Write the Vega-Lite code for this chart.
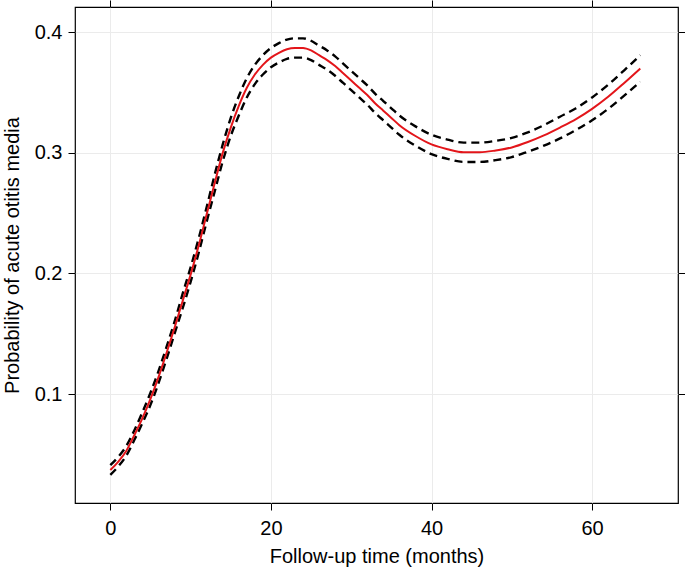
{
  "$schema": "https://vega.github.io/schema/vega-lite/v6.json",
  "width": 603,
  "height": 496,
  "autosize": {"type": "none"},
  "padding": {"left": 75, "top": 7, "right": 7, "bottom": 66},
  "background": "white",
  "config": {
    "view": {"stroke": "black", "strokeWidth": 1.2},
    "font": "Liberation Sans",
    "axis": {
      "labelFont": "Liberation Sans",
      "titleFont": "Liberation Sans",
      "labelFontSize": 20,
      "titleFontSize": 20,
      "titleFontWeight": "normal",
      "labelColor": "black",
      "titleColor": "black",
      "tickColor": "black",
      "tickSize": 7,
      "domain": false,
      "gridColor": "#ebebeb",
      "gridWidth": 1
    }
  },
  "data": {
    "values": [
      {"month": 0, "est": 0.037, "lo": 0.033, "hi": 0.041},
      {"month": 1, "est": 0.044, "lo": 0.040, "hi": 0.048},
      {"month": 2, "est": 0.053, "lo": 0.049, "hi": 0.057},
      {"month": 3, "est": 0.066, "lo": 0.062, "hi": 0.070},
      {"month": 4, "est": 0.080, "lo": 0.076, "hi": 0.085},
      {"month": 5, "est": 0.096, "lo": 0.091, "hi": 0.101},
      {"month": 6, "est": 0.114, "lo": 0.109, "hi": 0.119},
      {"month": 7, "est": 0.134, "lo": 0.129, "hi": 0.139},
      {"month": 8, "est": 0.155, "lo": 0.150, "hi": 0.160},
      {"month": 9, "est": 0.177, "lo": 0.171, "hi": 0.183},
      {"month": 10, "est": 0.199, "lo": 0.193, "hi": 0.205},
      {"month": 11, "est": 0.223, "lo": 0.217, "hi": 0.229},
      {"month": 12, "est": 0.249, "lo": 0.243, "hi": 0.255},
      {"month": 13, "est": 0.275, "lo": 0.268, "hi": 0.282},
      {"month": 14, "est": 0.300, "lo": 0.293, "hi": 0.307},
      {"month": 15, "est": 0.321, "lo": 0.314, "hi": 0.329},
      {"month": 16, "est": 0.339, "lo": 0.331, "hi": 0.347},
      {"month": 17, "est": 0.354, "lo": 0.346, "hi": 0.362},
      {"month": 18, "est": 0.365, "lo": 0.357, "hi": 0.373},
      {"month": 19, "est": 0.373, "lo": 0.365, "hi": 0.381},
      {"month": 20, "est": 0.379, "lo": 0.371, "hi": 0.387},
      {"month": 21, "est": 0.383, "lo": 0.375, "hi": 0.391},
      {"month": 22, "est": 0.386, "lo": 0.378, "hi": 0.394},
      {"month": 23, "est": 0.387, "lo": 0.379, "hi": 0.395},
      {"month": 24, "est": 0.387, "lo": 0.379, "hi": 0.395},
      {"month": 25, "est": 0.385, "lo": 0.377, "hi": 0.393},
      {"month": 26, "est": 0.381, "lo": 0.373, "hi": 0.389},
      {"month": 27, "est": 0.377, "lo": 0.369, "hi": 0.385},
      {"month": 28, "est": 0.372, "lo": 0.364, "hi": 0.380},
      {"month": 29, "est": 0.366, "lo": 0.358, "hi": 0.374},
      {"month": 30, "est": 0.360, "lo": 0.352, "hi": 0.368},
      {"month": 31, "est": 0.354, "lo": 0.346, "hi": 0.362},
      {"month": 32, "est": 0.348, "lo": 0.340, "hi": 0.356},
      {"month": 33, "est": 0.341, "lo": 0.333, "hi": 0.349},
      {"month": 34, "est": 0.335, "lo": 0.327, "hi": 0.343},
      {"month": 35, "est": 0.329, "lo": 0.321, "hi": 0.337},
      {"month": 36, "est": 0.323, "lo": 0.315, "hi": 0.331},
      {"month": 38, "est": 0.314, "lo": 0.306, "hi": 0.322},
      {"month": 40, "est": 0.307, "lo": 0.299, "hi": 0.315},
      {"month": 42, "est": 0.303, "lo": 0.295, "hi": 0.311},
      {"month": 44, "est": 0.3005, "lo": 0.2925, "hi": 0.3085},
      {"month": 46, "est": 0.3005, "lo": 0.2925, "hi": 0.3085},
      {"month": 48, "est": 0.302, "lo": 0.294, "hi": 0.310},
      {"month": 50, "est": 0.3045, "lo": 0.2965, "hi": 0.3125},
      {"month": 52, "est": 0.309, "lo": 0.301, "hi": 0.317},
      {"month": 54, "est": 0.3145, "lo": 0.306, "hi": 0.323},
      {"month": 56, "est": 0.321, "lo": 0.312, "hi": 0.330},
      {"month": 58, "est": 0.328, "lo": 0.319, "hi": 0.337},
      {"month": 60, "est": 0.3365, "lo": 0.327, "hi": 0.346},
      {"month": 62, "est": 0.3465, "lo": 0.3365, "hi": 0.3565},
      {"month": 64, "est": 0.358, "lo": 0.3475, "hi": 0.3685},
      {"month": 66, "est": 0.370, "lo": 0.359, "hi": 0.381}
    ]
  },
  "resolve": {"axis": {"x": "independent", "y": "independent"}},
  "layer": [
    {
      "mark": {"type": "line", "color": "black", "strokeWidth": 2.4, "strokeDash": [8, 5], "interpolate": "monotone"},
      "encoding": {
        "x": {"field": "month", "type": "quantitative", "scale": {"domain": [-4.4, 70.7], "nice": false, "zero": false},
              "axis": {"orient": "bottom", "values": [0, 20, 40, 60], "title": "Follow-up time (months)", "labelPadding": 8, "titlePadding": 8, "grid": true}},
        "y": {"field": "hi", "type": "quantitative", "scale": {"domain": [0.0096, 0.421], "nice": false, "zero": false},
              "axis": {"orient": "left", "values": [0.1, 0.2, 0.3, 0.4], "format": ".1f", "title": "Probability of acute otitis media", "labelPadding": 6, "titlePadding": 12, "grid": true}}
      }
    },
    {
      "mark": {"type": "line", "color": "black", "strokeWidth": 2.4, "strokeDash": [8, 5], "interpolate": "monotone"},
      "encoding": {
        "x": {"field": "month", "type": "quantitative",
              "axis": {"orient": "top", "values": [0, 20, 40, 60], "labels": false, "title": null, "grid": false}},
        "y": {"field": "lo", "type": "quantitative",
              "axis": {"orient": "right", "values": [0.1, 0.2, 0.3, 0.4], "labels": false, "title": null, "grid": false}}
      }
    },
    {
      "mark": {"type": "line", "color": "#e3151a", "strokeWidth": 2, "interpolate": "monotone"},
      "encoding": {
        "x": {"field": "month", "type": "quantitative", "axis": null},
        "y": {"field": "est", "type": "quantitative", "axis": null}
      }
    }
  ]
}
